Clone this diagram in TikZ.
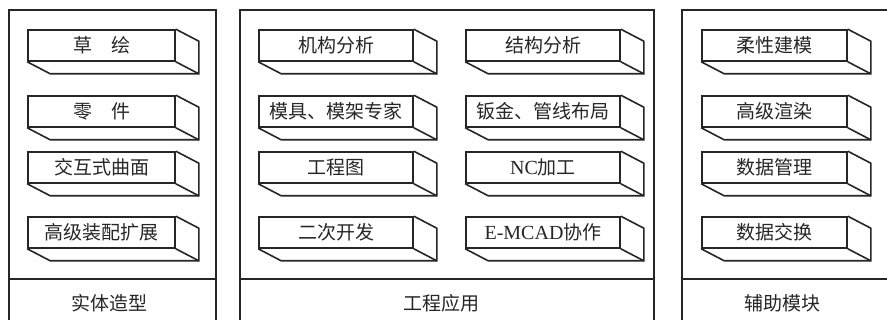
\documentclass[tikz,border=0pt]{standalone}
\usepackage{fontspec}
\setmainfont{Liberation Serif}
\newfontfamily\cjk{Noto Sans CJK SC}
\usetikzlibrary{calc}
\definecolor{ink}{HTML}{262626}
\tikzset{
  panel/.style={draw=ink, line width=1.6pt},
  face/.style={draw=ink, line width=1.6pt, minimum height=31pt, inner sep=0pt,
    font=\fontsize{19}{19}\selectfont\cjk, text=ink},
  depthline/.style={draw=ink, line width=1.6pt},
  lbl/.style={font=\fontsize{19}{19}\selectfont\cjk, text=ink, inner sep=0pt}
}
\begin{document}
\begin{tikzpicture}[x=1pt,y=-1pt]
\useasboundingbox (0,0) rectangle (887,320);
\fill[white] (0,0) rectangle (887,320);
\clip (0,0) rectangle (887,320);
% panels
\draw[panel] (9,330) -- (9,10) -- (216,10) -- (216,330);
\draw[panel] (9,279) -- (216,279);
\draw[panel] (240,330) -- (240,10) -- (654,10) -- (654,330);
\draw[panel] (240,279) -- (654,279);
\draw[panel] (682,330) -- (682,10) -- (900,10);
\draw[panel] (682,279) -- (900,279);
% boxes: left
\node[face, minimum width=147pt] (a1) at (101.5,45.5) {草\hspace{1em}绘};
\node[face, minimum width=147pt] (a2) at (101.5,111.5) {零\hspace{1em}件};
\node[face, minimum width=147pt] (a3) at (101.5,167.5) {交互式曲面};
\node[face, minimum width=147pt] (a4) at (101.5,232.5) {高级装配扩展};
% middle
\node[face, minimum width=154pt] (b1) at (336,45.5) {机构分析};
\node[face, minimum width=154pt] (b2) at (336,111.5) {模具、模架专家};
\node[face, minimum width=154pt] (b3) at (336,167.5) {工程图};
\node[face, minimum width=154pt] (b4) at (336,232.5) {二次开发};
\node[face, minimum width=154pt] (c1) at (543,45.5) {结构分析};
\node[face, minimum width=154pt] (c2) at (543,111.5) {钣金、管线布局};
\node[face, minimum width=154pt] (c3) at (543,167.5) {{\rmfamily\fontsize{20}{20}\selectfont NC}加工};
\node[face, minimum width=154pt] (c4) at (543,232.5) {{\rmfamily\fontsize{20}{20}\selectfont E-MCAD}协作};
% right
\node[face, minimum width=145pt] (d1) at (774.5,45.5) {柔性建模};
\node[face, minimum width=145pt] (d2) at (774.5,111.5) {高级渲染};
\node[face, minimum width=145pt] (d3) at (774.5,167.5) {数据管理};
\node[face, minimum width=145pt] (d4) at (774.5,232.5) {数据交换};
% extrusions
\foreach \n in {a1,a2,a3,a4,b1,b2,b3,b4,c1,c2,c3,c4,d1,d2,d3,d4}{
  \draw[depthline] (\n.north east) -- ($(\n.north east)+(23,12)$)
     -- ($(\n.south east)+(23,12)$) -- ($(\n.south west)+(23,12)$) -- (\n.south west);
  \draw[depthline] (\n.south east) -- ($(\n.south east)+(23,12)$);
}
% bottom labels
\node[lbl] (l1) at (109,303) {实体造型};
\node[lbl] (l2) at (441,303) {工程应用};
\node[lbl] (l3) at (782,303) {辅助模块};
\end{tikzpicture}
\end{document}
